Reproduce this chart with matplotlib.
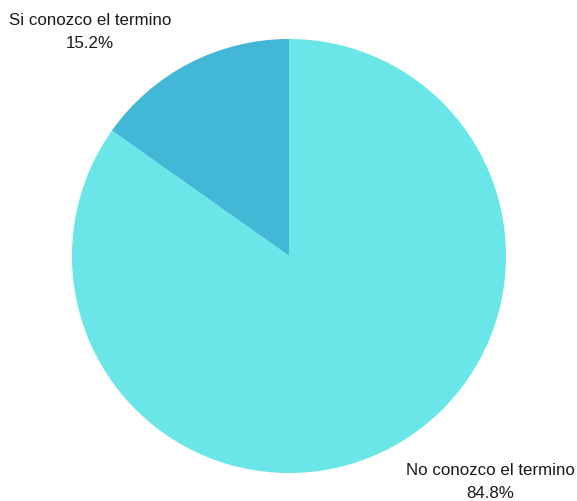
import matplotlib
matplotlib.use("Agg")
import matplotlib.pyplot as plt

categories = ["Si conozco el termino", "No conozco el termino"]
values = [15.2, 84.8]
colors = ["#42b8d6", "#6ae6e8"]

W, H = 577, 502
fig = plt.figure(figsize=(W / 100, H / 100), dpi=100)
ax = fig.add_axes([0, 0, 1, 1])

cx, cy, r = 289, H - 257, 217
ax.pie(values, colors=colors, startangle=90, counterclock=True,
       center=(cx, cy), radius=r, wedgeprops=dict(linewidth=0))
ax.set_xlim(0, W)
ax.set_ylim(0, H)
ax.set_aspect("auto")
ax.axis("off")

font = dict(family=["Liberation Sans", "DejaVu Sans"], fontsize=12.2,
            color="#1a1a1a", ha="center", va="center", linespacing=1.6)
label_pos = [(90, H - 32), (490, H - 482)]
for name, val, (x, y) in zip(categories, values, label_pos):
    ax.text(x, y, f"{name}\n{val:.1f}%", **font)

fig.savefig("out.png", dpi=100)
